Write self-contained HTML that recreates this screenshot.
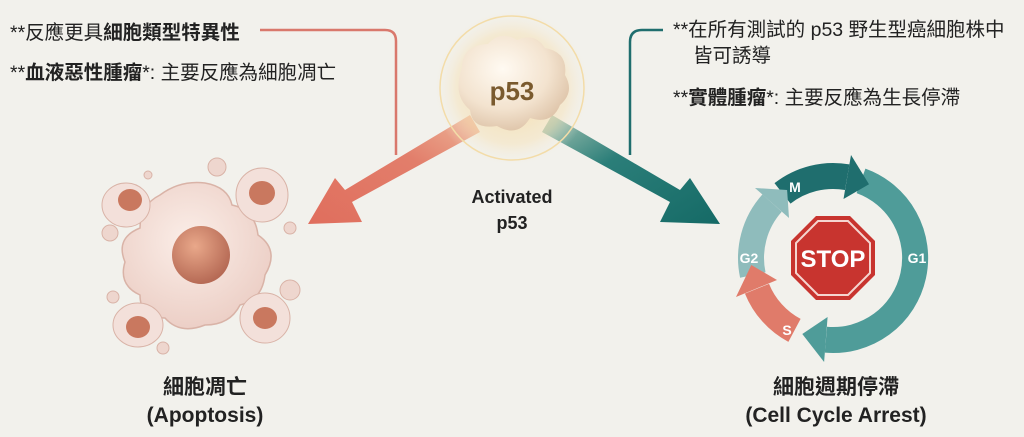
<!DOCTYPE html>
<html><head><meta charset="utf-8"><style>
html,body{margin:0;padding:0;background:#f2f1ec;}
svg{display:block}
text{font-family:"Liberation Sans","Noto Sans CJK TC",sans-serif;}
</style></head><body>
<svg width="1024" height="437" viewBox="0 0 1024 437" xmlns="http://www.w3.org/2000/svg">
<defs>
<radialGradient id="glow" cx="50%" cy="50%" r="50%">
<stop offset="0" stop-color="#f7d79a" stop-opacity="0.9"/>
<stop offset="0.7" stop-color="#f6e2b8" stop-opacity="0.5"/>
<stop offset="1" stop-color="#f2f1ec" stop-opacity="0"/>
</radialGradient>
<radialGradient id="blob" cx="40%" cy="35%" r="70%">
<stop offset="0" stop-color="#fffaf2"/>
<stop offset="0.6" stop-color="#f3e3cf"/>
<stop offset="1" stop-color="#dcc1a5"/>
</radialGradient>
<radialGradient id="cell" cx="45%" cy="40%" r="60%">
<stop offset="0" stop-color="#fbeee8"/>
<stop offset="1" stop-color="#eccfc6"/>
</radialGradient>
<radialGradient id="nuc" cx="40%" cy="35%" r="65%">
<stop offset="0" stop-color="#e9a88a"/>
<stop offset="1" stop-color="#b66a55"/>
</radialGradient>
<linearGradient id="lar" x1="1" y1="0" x2="0" y2="1">
<stop offset="0" stop-color="#eeb79a"/><stop offset="0.4" stop-color="#e27e6b"/><stop offset="1" stop-color="#e06e5d"/>
</linearGradient>
<linearGradient id="rar" x1="0" y1="0" x2="1" y2="1">
<stop offset="0" stop-color="#a9c6b4"/><stop offset="0.4" stop-color="#2b7e79"/><stop offset="1" stop-color="#156a66"/>
</linearGradient>
</defs>

<path d="M260 30 H385 Q396 30 396 41 V155" fill="none" stroke="#d9786c" stroke-width="2.5"/>
<path d="M663 30 H642 Q630 30 630 42 V155" fill="none" stroke="#1f6e6e" stroke-width="2.5"/>

<polygon points="470,115 480,132 352,202 362,222 308,224 335,178 345,190" fill="url(#lar)"/>
<polygon points="552,115 542,132 670,202 660,222 720,224 690,178 680,190" fill="url(#rar)"/>

<circle cx="512" cy="88" r="80" fill="url(#glow)"/>
<circle cx="512" cy="88" r="72" fill="none" stroke="#f3dca8" stroke-width="1.5"/>
<path d="M462 68 Q462 45 488 44 Q500 30 517 40 Q535 32 545 48 Q568 52 565 75 Q575 92 560 105 Q552 125 530 118 Q518 138 497 126 Q472 130 470 110 Q452 95 462 68Z" fill="url(#blob)"/>
<text x="512" y="100" text-anchor="middle" font-size="26" font-weight="bold" fill="#7a5a2e">p53</text>
<text x="512" y="203" text-anchor="middle" font-size="18" font-weight="bold" fill="#222">Activated</text>
<text x="512" y="229" text-anchor="middle" font-size="18" font-weight="bold" fill="#222">p53</text>

<path d="M160 195 Q180 180 205 183 Q228 187 232 205 Q255 210 258 235 Q280 250 265 275 Q262 300 240 305 Q230 325 205 325 Q180 335 165 318 Q140 318 140 295 Q118 285 125 262 Q115 238 140 228 Q140 205 160 195Z" fill="url(#cell)" stroke="#d9b3a7" stroke-width="1.5"/>
<circle cx="201" cy="255" r="29" fill="url(#nuc)"/>
<ellipse cx="126" cy="205" rx="24" ry="22" fill="#f3e0da" stroke="#d9b3a7"/>
<ellipse cx="130" cy="200" rx="12" ry="11" fill="#c9785f"/>
<ellipse cx="262" cy="195" rx="26" ry="27" fill="#f3e0da" stroke="#d9b3a7"/>
<ellipse cx="262" cy="193" rx="13" ry="12" fill="#c9785f"/>
<ellipse cx="138" cy="325" rx="25" ry="22" fill="#f3e0da" stroke="#d9b3a7"/>
<ellipse cx="138" cy="327" rx="12" ry="11" fill="#c9785f"/>
<ellipse cx="265" cy="318" rx="25" ry="25" fill="#f3e0da" stroke="#d9b3a7"/>
<ellipse cx="265" cy="318" rx="12" ry="11" fill="#c9785f"/>
<circle cx="217" cy="167" r="9" fill="#eed6ce" stroke="#d9b3a7"/>
<circle cx="110" cy="233" r="8" fill="#eed6ce" stroke="#d9b3a7"/>
<circle cx="290" cy="290" r="10" fill="#eed6ce" stroke="#d9b3a7"/>
<circle cx="113" cy="297" r="6" fill="#eed6ce" stroke="#d9b3a7"/>
<circle cx="163" cy="348" r="6" fill="#eed6ce" stroke="#d9b3a7"/>
<circle cx="290" cy="228" r="6" fill="#eed6ce" stroke="#d9b3a7"/>
<circle cx="148" cy="175" r="4" fill="#eed6ce" stroke="#d9b3a7"/>

<g fill="none" stroke-width="26">
<path d="M861 180.9 A82 82 0 0 1 825.9 339.7" stroke="#4f9c99"/>
<path d="M794.5 330.4 A82 82 0 0 1 757 288.7" stroke="#e07b6a"/>
<path d="M752.8 275 A82 82 0 0 1 772.1 203.1" stroke="#8fbcbc"/>
<path d="M782.5 193.4 A82 82 0 0 1 847.2 177.2" stroke="#1f6e6e"/>
</g>
<polygon points="827.6,317 824.1,362 802.3,334" fill="#4f9c99"/>
<polygon points="777,280 736,297 751.3,265" fill="#e07b6a"/>
<polygon points="789,218 755,188 787.1,190" fill="#8fbcbc"/>
<polygon points="843.5,199 851,155 869,184.3" fill="#1f6e6e"/>
<g font-size="14" font-weight="bold" fill="#fff" text-anchor="middle">
<text x="795" y="192">M</text>
<text x="917" y="263">G1</text>
<text x="749" y="263">G2</text>
<text x="787" y="335">S</text>
</g>
<polygon points="816,216 850,216 875,241 875,275 850,300 816,300 791,275 791,241" fill="#c8342f"/>
<polygon points="818,221 848,221 870,243 870,273 848,295 818,295 796,273 796,243" fill="none" stroke="#f5d5d0" stroke-width="2"/>
<text x="833" y="267" text-anchor="middle" font-size="24" font-weight="bold" fill="#fff">STOP</text>

<g font-size="19.5" fill="#222">
<text x="10" y="39">**反應更具<tspan font-weight="bold">細胞類型特異性</tspan></text>
<text x="10" y="79">**<tspan font-weight="bold">血液惡性腫瘤</tspan>*: 主要反應為細胞凋亡</text>
<text x="673" y="36">**在所有測試的 p53 野生型癌細胞株中</text>
<text x="693" y="62">皆可誘導</text>
<text x="673" y="104">**<tspan font-weight="bold">實體腫瘤</tspan>*: 主要反應為生長停滯</text>
</g>
<g font-size="21" font-weight="bold" fill="#222" text-anchor="middle">
<text x="205" y="394">細胞凋亡</text>
<text x="205" y="422">(Apoptosis)</text>
<text x="836" y="394">細胞週期停滯</text>
<text x="836" y="422">(Cell Cycle Arrest)</text>
</g>
</svg>
</body></html>
